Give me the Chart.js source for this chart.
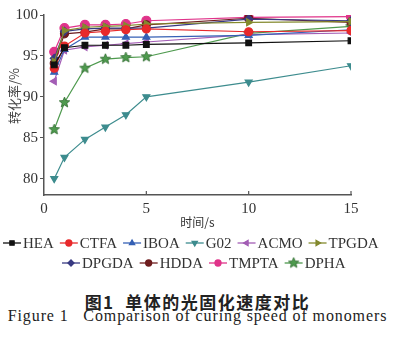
<!DOCTYPE html>
<html>
<head>
<meta charset="utf-8">
<script src="https://cdn.jsdelivr.net/npm/chart.js@4"></script>
<style>
  body { margin: 0; background: #fff; width: 395px; height: 339px; overflow: hidden; position: relative; }
  #wrap { position: absolute; left: 0; top: 0; width: 395px; height: 280px; }
  .cap { position: absolute; left: 0; width: 395px; text-align: center; color: #222; white-space: nowrap; }
  #cap1 { top: 289px; font: bold 17px "Noto Sans CJK SC", sans-serif; letter-spacing: 1.5px; }
  #cap2 { top: 307px; font: 16px "Liberation Serif", serif; letter-spacing: 0.9px; }
</style>
</head>
<body>
<div id="wrap"><canvas id="chart"></canvas></div>
<div class="cap" id="cap1">图1&nbsp; 单体的光固化速度对比</div>
<div class="cap" id="cap2">Figure 1&nbsp;&nbsp; Comparison of curing speed of monomers</div>

<script>
// 时间 (s)
const times = [0.5, 1, 2, 3, 4, 5, 10, 15];

// 转化率 (%)
const hea   = [93.9, 96.0, 96.3, 96.3, 96.3, 96.4, 96.6, 96.85];
const ctfa  = [93.5, 96.2, 97.8, 98.0, 98.2, 98.3, 97.95, 98.1];
const iboa  = [93.0, 95.8, 97.3, 97.3, 97.3, 97.3, 97.5, 98.2];
const g02   = [80.0, 82.6, 84.8, 86.3, 87.8, 90.0, 91.8, 93.8];
const acmo  = [91.9, 95.7, 96.1, 96.3, 96.5, 96.7, 97.6, 97.8];
const tpgda = [94.3, 98.1, 98.5, 98.6, 98.7, 98.9, 99.1, 99.2];
const dpgda = [94.7, 98.0, 98.3, 98.4, 98.4, 98.4, 99.5, 99.3];
const hdda  = [94.1, 97.7, 97.9, 98.3, 98.3, 98.8, 99.6, 99.1];
const tmpta = [95.5, 98.4, 98.8, 98.8, 98.9, 99.3, 99.7, 99.8];
const dpha  = [86.0, 89.3, 93.5, 94.6, 94.8, 94.9, 97.75, 98.6];

const xTicks = [0, 5, 10, 15];
const yTicks = [80, 85, 90, 95, 100];

// 五角星标记
function starImage(color, r) {
  const c = document.createElement('canvas');
  const s = Math.ceil(r * 2 + 2);
  c.width = s; c.height = s;
  const g = c.getContext('2d');
  g.beginPath();
  for (let i = 0; i < 10; i++) {
    const rr = i % 2 === 0 ? r : r * 0.45;
    const a = -Math.PI / 2 + i * Math.PI / 5;
    g.lineTo(s / 2 + rr * Math.cos(a), s / 2 + rr * Math.sin(a));
  }
  g.closePath();
  g.fillStyle = color;
  g.fill();
  g.strokeStyle = '#2f6b2f';
  g.lineWidth = 0.8;
  g.stroke();
  return c;
}

const star = starImage('#4e9a4e', 5.5);

const series = [
  { label: 'HEA',   data: hea,   color: '#111111', style: 'rect',     rot: 0 },
  { label: 'CTFA',  data: ctfa,  color: '#e8292b', style: 'circle',   rot: 0 },
  { label: 'IBOA',  data: iboa,  color: '#3560b5', style: 'triangle', rot: 0 },
  { label: 'G02',   data: g02,   color: '#3d8c8e', style: 'triangle', rot: 180 },
  { label: 'ACMO',  data: acmo,  color: '#a35db5', style: 'triangle', rot: -90 },
  { label: 'TPGDA', data: tpgda, color: '#848a2e', style: 'triangle', rot: 90 },
  { label: 'DPGDA', data: dpgda, color: '#383a82', style: 'rectRot',  rot: 0 },
  { label: 'HDDA',  data: hdda,  color: '#6e1c1e', style: 'circle',   rot: 0 },
  { label: 'TMPTA', data: tmpta, color: '#e0338a', style: 'circle',   rot: 0 },
  { label: 'DPHA',  data: dpha,  color: '#4e9a4e', style: star,       rot: 0 }
];

const serif = '"Liberation Serif", serif';

// 图例：两行，线段加标记
const legendPlugin = {
  id: 'lineLegend',
  afterDraw(chart) {
    const ctx = chart.ctx;
    const rows = [series.slice(0, 6), series.slice(6)];
    const rowY = [243, 263];
    ctx.save();
    ctx.font = '15px ' + serif;
    ctx.textBaseline = 'middle';
    rows.forEach((row, ri) => {
      const widths = row.map(s => 18 + 2 + ctx.measureText(s.label).width);
      const gap = 6;
      const total = widths.reduce((a, b) => a + b, 0) + gap * (row.length - 1);
      let x = ri === 0 ? 3 : 62;
      const y = rowY[ri];
      row.forEach((s, i) => {
        ctx.strokeStyle = s.color;
        ctx.lineWidth = 1.3;
        ctx.beginPath();
        ctx.moveTo(x, y);
        ctx.lineTo(x + 18, y);
        ctx.stroke();
        Chart.helpers.drawPoint(ctx, {
          pointStyle: s.style,
          radius: 3,
          rotation: s.rot,
          borderWidth: 1
        }, x + 9, y);
        ctx.fillStyle = s.color;
        ctx.fill();
        ctx.fillStyle = '#333';
        ctx.fillText(s.label, x + 20, y + 1);
        x += widths[i] + gap;
      });
    });
    ctx.restore();
  }
};

// x 轴刻度朝内，y 轴标题
const axisExtras = {
  id: 'axisExtras',
  afterDraw(chart) {
    const ctx = chart.ctx;
    const xs = chart.scales.x;
    const area = chart.chartArea;
    ctx.save();
    ctx.strokeStyle = '#555';
    ctx.lineWidth = 1.2;
    xTicks.slice(1).forEach(v => {
      const px = xs.getPixelForValue(v);
      ctx.beginPath();
      ctx.moveTo(px, area.bottom);
      ctx.lineTo(px, area.bottom - 4);
      ctx.stroke();
    });
    ctx.translate(14, 96);
    ctx.rotate(-Math.PI / 2);
    ctx.font = '13px "Noto Sans CJK SC", sans-serif';
    ctx.fillStyle = '#444';
    ctx.textAlign = 'center';
    ctx.textBaseline = 'middle';
    ctx.fillText('转化率/%', 0, 0);
    ctx.restore();
  }
};

function draw() {
  new Chart(document.getElementById('chart'), {
    type: 'line',
    data: {
      datasets: series.map(s => ({
        label: s.label,
        data: times.map((t, i) => ({ x: t, y: s.data[i] })),
        borderColor: s.color,
        backgroundColor: s.color,
        pointBorderColor: s.color,
        borderWidth: 1.2,
        pointStyle: s.style,
        pointRotation: s.rot,
        pointRadius: s.label === 'TMPTA' ? 4.5 : 4,
        tension: 0
      }))
    },
    options: {
      responsive: true,
      maintainAspectRatio: false,
      animation: false,
      layout: { padding: { left: 0, right: 44, top: 15, bottom: 50 } },
      plugins: {
        legend: { display: false },
        tooltip: { enabled: false }
      },
      scales: {
        x: {
          type: 'linear',
          min: 0,
          max: 15,
          afterBuildTicks: s => { s.ticks = xTicks.map(v => ({ value: v })); },
          afterFit: s => { s.height = 35; },
          border: { color: '#555', width: 1.5 },
          grid: { display: false, drawTicks: false },
          ticks: { color: '#333', padding: 5, font: { family: serif, size: 15 } },
          title: {
            display: true,
            text: '时间/s',
            color: '#333',
            padding: { top: 0, bottom: 0 },
            font: { family: '"Noto Sans CJK SC", sans-serif', size: 12 }
          }
        },
        y: {
          min: 78,
          max: 100,
          afterBuildTicks: s => { s.ticks = yTicks.map(v => ({ value: v })); },
          afterFit: s => { s.width = 44; },
          border: { color: '#555', width: 1.5 },
          grid: { drawOnChartArea: false, drawTicks: true, tickLength: 4, color: '#555' },
          ticks: { color: '#333', padding: 2, font: { family: serif, size: 15 } }
        }
      }
    },
    plugins: [legendPlugin, axisExtras]
  });
}

Promise.all([
  document.fonts.load('15px "Liberation Serif"'),
  document.fonts.load('13px "Noto Sans CJK SC"', '转化率时间')
]).then(draw, draw);
</script>
</body>
</html>
